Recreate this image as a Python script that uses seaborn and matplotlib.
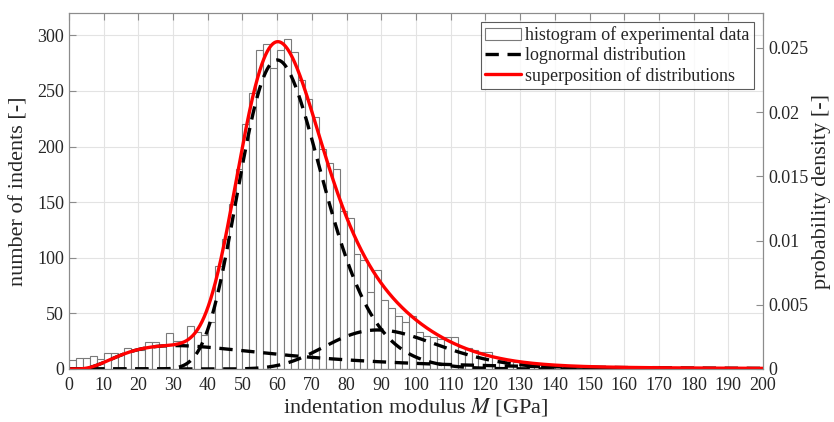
import numpy as np
import pandas as pd
import matplotlib
matplotlib.use("Agg")
import matplotlib.pyplot as plt
import seaborn as sns

# Histogram: 2 GPa bins from 0 to 200 GPa, counts per bin
bin_width = 2
bin_range = (0, 200)
counts = [
    8, 10, 10, 12, 9, 14, 14, 13, 19, 17,            # 0-20
    17, 24, 24, 21, 32, 25, 25, 39, 33, 31,          # 20-40
    42, 93, 117, 148, 180, 220, 248, 287, 292, 271,  # 40-60
    287, 297, 285, 260, 243, 227, 198, 185, 180, 142,  # 60-80
    136, 103, 98, 69, 89, 62, 55, 48, 42, 48,        # 80-100
    33, 30, 29, 27, 29, 29, 20, 19, 17, 15,          # 100-120
    15, 11, 8, 8, 6, 5, 4, 4, 3, 3,                  # 120-140
    2, 4, 1, 1, 1, 1, 1, 0, 1, 0,                    # 140-160
    0, 1, 0, 1, 3, 0, 0, 0, 0, 0,                    # 160-180
    0, 0, 0, 0, 0, 0, 0, 0, 0, 0,                    # 180-200
]

# Lognormal mixture fitted to the data: weight, mode [GPa], shape sigma
comp_weight = [0.125, 0.738, 0.124]
comp_mode = [30.6, 60.0, 89.0]
comp_sigma = [0.70, 0.20, 0.18]

x_ticks = list(range(0, 201, 10))
y_ticks = [0, 50, 100, 150, 200, 250, 300]
y2_ticks = [0, 0.005, 0.01, 0.015, 0.02, 0.025]
y2_labels = ["0", "0.005", "0.01", "0.015", "0.02", "0.025"]

sns.set_theme(style="white")
plt.rcParams["font.family"] = ["Liberation Serif", "DejaVu Serif"]
plt.rcParams["mathtext.fontset"] = "stix"

centers = np.arange(bin_range[0], bin_range[1], bin_width) + bin_width / 2
hist_df = pd.DataFrame({"M": centers, "n": counts})

fig = plt.figure(figsize=(8.34, 4.22), dpi=100)
ax = fig.add_axes([0.0827, 0.1256, 0.8322, 0.8434])

spine_col = "#8c8c8c"
txt_col = "#262626"

ax.grid(True, color="#e3e3e3", linewidth=0.8)
ax.set_axisbelow(True)

sns.histplot(data=hist_df, x="M", weights="n", binwidth=bin_width,
             binrange=bin_range, ax=ax, stat="count", element="bars",
             fill=True, facecolor="white", edgecolor="#7a7a7a",
             linewidth=0.8, alpha=1.0, label="histogram of experimental data")

ax.set_xlim(0, 200)
ax.set_ylim(0, 320)
ax.set_xticks(x_ticks)
ax.set_yticks(y_ticks)
ax.set_xlabel("indentation modulus $M$ [GPa]", fontsize=16, color=txt_col, labelpad=1)
ax.set_ylabel("number of indents [-]", fontsize=16, color=txt_col, labelpad=6)
ax.tick_params(axis="both", direction="in", labelsize=13, colors=txt_col,
               length=5, width=0.8, top=True, color=spine_col)
ax.tick_params(axis="x", pad=6)
for s in ax.spines.values():
    s.set_color(spine_col)
    s.set_linewidth(0.8)

# Probability density on the right axis
ax2 = ax.twinx()
grid = np.linspace(0.05, 200, 2000)
total = np.zeros_like(grid)
curves = []
for w, mode, sig in zip(comp_weight, comp_mode, comp_sigma):
    mu = np.log(mode) + sig ** 2
    pdf = w / (grid * sig * np.sqrt(2 * np.pi)) * np.exp(-(np.log(grid) - mu) ** 2 / (2 * sig ** 2))
    curves.append(pdf)
    total += pdf

for i, pdf in enumerate(curves):
    sns.lineplot(x=grid, y=pdf, ax=ax2, color="black", linewidth=2.4,
                 linestyle=(0, (4, 2.6)),
                 label="lognormal distribution" if i == 0 else None)
sns.lineplot(x=grid, y=total, ax=ax2, color="#ff0000", linewidth=2.4,
             label="superposition of distributions")

ax2.set_ylim(0, 0.0277)
ax2.set_yticks(y2_ticks)
ax2.set_yticklabels(y2_labels)
ax2.set_ylabel("probability density [-]", fontsize=16, color=txt_col, labelpad=3)
ax2.tick_params(axis="y", direction="in", labelsize=13, colors=txt_col,
                length=5, width=0.8, color=spine_col)
for s in ax2.spines.values():
    s.set_color(spine_col)
    s.set_linewidth(0.8)
if ax2.get_legend() is not None:
    ax2.get_legend().remove()

# Combined legend
h1, l1 = ax.get_legend_handles_labels()
h2, l2 = ax2.get_legend_handles_labels()
leg = ax2.legend(h1 + h2, l1 + l2, loc="upper right", fontsize=13,
                 frameon=True, fancybox=False, edgecolor="#333333",
                 handlelength=2.0, handletextpad=0.2, borderpad=0.25,
                 labelspacing=0.15, borderaxespad=0.5)
leg.get_frame().set_linewidth(0.8)

fig.savefig("out.png", dpi=100)
